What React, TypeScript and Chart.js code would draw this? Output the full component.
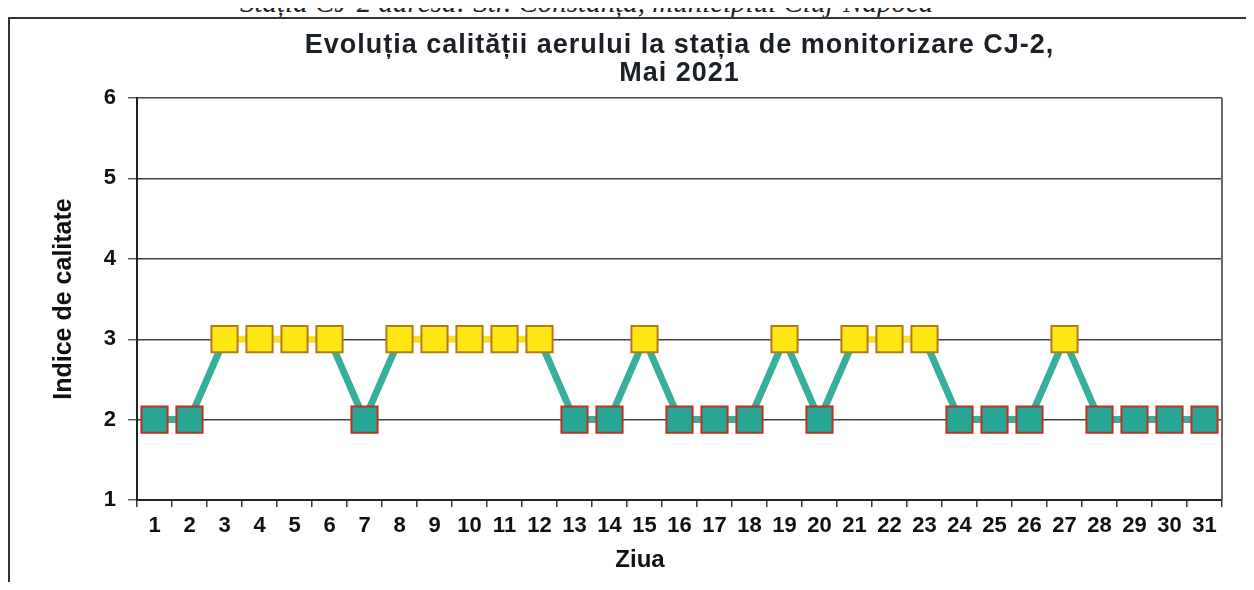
import React, { useEffect, useRef } from "react";
import { Chart, registerables } from "chart.js";

Chart.register(...registerables);

// ---- data ----
const days = [
  "1", "2", "3", "4", "5", "6", "7", "8", "9", "10",
  "11", "12", "13", "14", "15", "16", "17", "18", "19", "20",
  "21", "22", "23", "24", "25", "26", "27", "28", "29", "30", "31",
];
const qualityIndex = [
  2, 2, 3, 3, 3, 3, 2, 3, 3, 3,
  3, 3, 2, 2, 3, 2, 2, 2, 3, 2,
  3, 3, 3, 2, 2, 2, 3, 2, 2, 2, 2,
];
const yMin = 1;
const yMax = 6;
const yStep = 1;
const titleLines = ["Evoluția calității aerului la stația de monitorizare CJ-2,", "Mai 2021"];
const yTitle = "Indice de calitate";
const xTitle = "Ziua";
const headerText = "Stația CJ-2 adresa: Str. Constanța, municipiul Cluj-Napoca";

// ---- styles ----
const FONT = '"Liberation Sans", Arial, Helvetica, sans-serif';
const TEAL_LINE = "#38ae9c";
const YELLOW_LINE = "#f7e21a";
const TEAL_FILL = "#27a595";
const YELLOW_FILL = "#ffe714";
const TEAL_BORDER = "#c2301f";
const YELLOW_BORDER = "#b5781c";

const W = 1246;
const H = 573;
const AREA_LEFT = 129;
const AREA_RIGHT = 1214;
const AREA_TOP = 81;
const AREA_BOTTOM = 483;

const overlayPlugin = {
  id: "overlay",
  beforeDatasetsDraw(chart: any) {
    const { ctx, chartArea } = chart;
    ctx.save();
    ctx.strokeStyle = "#6b6b6b";
    ctx.lineWidth = 2;
    ctx.beginPath();
    ctx.moveTo(chartArea.right, chartArea.top);
    ctx.lineTo(chartArea.right, chartArea.bottom);
    ctx.stroke();
    ctx.restore();
  },
  afterDraw(chart: any) {
    const { ctx, chartArea } = chart;
    ctx.save();
    ctx.fillStyle = "#1b2027";
    ctx.textAlign = "center";
    ctx.textBaseline = "middle";
    const cx = (chartArea.left + chartArea.right) / 2;
    ctx.font = `bold 27px ${FONT}`;
    try { (ctx as any).letterSpacing = "1px"; } catch (e) {}
    ctx.fillText(titleLines[0], cx, 29);
    ctx.fillText(titleLines[1], cx, 57);
    try { (ctx as any).letterSpacing = "0px"; } catch (e) {}
    ctx.fillStyle = "#111";
    ctx.font = `bold 24px ${FONT}`;
    ctx.fillText(xTitle, 632, 543);
    ctx.restore();
  },
};

export default function App() {
  const canvasRef = useRef<HTMLCanvasElement | null>(null);

  useEffect(() => {
    document.body.style.overflow = "hidden";
    document.documentElement.style.overflow = "hidden";
    const canvas = canvasRef.current;
    if (!canvas) return;
    const pointFill = qualityIndex.map((v) => (v >= 3 ? YELLOW_FILL : TEAL_FILL));
    const pointBorder = qualityIndex.map((v) => (v >= 3 ? YELLOW_BORDER : TEAL_BORDER));

    const chart = new Chart(canvas, {
      type: "line",
      data: {
        labels: days,
        datasets: [
          {
            label: "Indice de calitate",
            data: qualityIndex,
            borderColor: TEAL_LINE,
            borderWidth: 7,
            segment: {
              borderColor: (c: any) =>
                c.p0.parsed.y >= 3 && c.p1.parsed.y >= 3 ? YELLOW_LINE : TEAL_LINE,
            },
            pointStyle: "rect",
            pointRadius: 18.5,
            pointHoverRadius: 18.5,
            pointBackgroundColor: pointFill,
            pointBorderColor: pointBorder,
            pointBorderWidth: 2,
            tension: 0,
            fill: false,
          },
        ],
      },
      options: {
        responsive: false,
        animation: false,
        devicePixelRatio: 1,
        layout: { padding: { left: 0, right: W - AREA_RIGHT, top: AREA_TOP, bottom: 0 } },
        plugins: {
          legend: { display: false },
          title: { display: false },
          tooltip: { enabled: false },
        },
        scales: {
          x: {
            type: "category",
            offset: true,
            afterFit: (s: any) => {
              s.height = H - AREA_BOTTOM;
            },
            grid: {
              offset: true,
              drawOnChartArea: false,
              drawTicks: true,
              tickLength: 7,
              color: "#333",
              lineWidth: 1.5,
            },
            border: { display: true, color: "#222", width: 2 },
            ticks: {
              color: "#111",
              font: { family: FONT, size: 22, weight: "bold" },
              padding: 6,
              maxRotation: 0,
              minRotation: 0,
              autoSkip: false,
            },
          },
          y: {
            min: yMin,
            max: yMax,
            afterFit: (s: any) => {
              s.width = AREA_LEFT;
            },
            grid: {
              color: "#444",
              lineWidth: 1.4,
              drawTicks: true,
              tickLength: 9,
              tickColor: "#555",
            },
            border: { display: true, color: "#222", width: 2 },
            ticks: {
              stepSize: yStep,
              color: "#111",
              font: { family: FONT, size: 22, weight: "bold" },
              padding: 12,
            },
            title: {
              display: true,
              text: yTitle,
              color: "#111",
              font: { family: FONT, size: 25, weight: "bold" },
              padding: { top: 41, bottom: 0 },
            },
          },
        },
      },
      plugins: [overlayPlugin],
    } as any);

    return () => chart.destroy();
  }, []);

  return (
    <div style={{ position: "relative", width: W, height: 574 }}>
      <div
        style={{
          position: "absolute",
          left: 232,
          top: -22,
          fontFamily: '"Liberation Serif", "Times New Roman", serif',
          fontSize: 29,
          whiteSpace: "nowrap",
          color: "#222",
          fontStyle: "italic",
        }}
      >
        {headerText}
      </div>
      <div
        style={{
          position: "absolute",
          left: 0,
          top: 9,
          width: W,
          height: H + 20,
          borderLeft: "2px solid #333",
          borderTop: "2px solid #333",
          boxSizing: "border-box",
          background: "#fff",
        }}
      />
      <canvas
        ref={canvasRef}
        width={W}
        height={H}
        style={{ position: "absolute", left: 0, top: 9, width: W, height: H }}
      />
    </div>
  );
}
